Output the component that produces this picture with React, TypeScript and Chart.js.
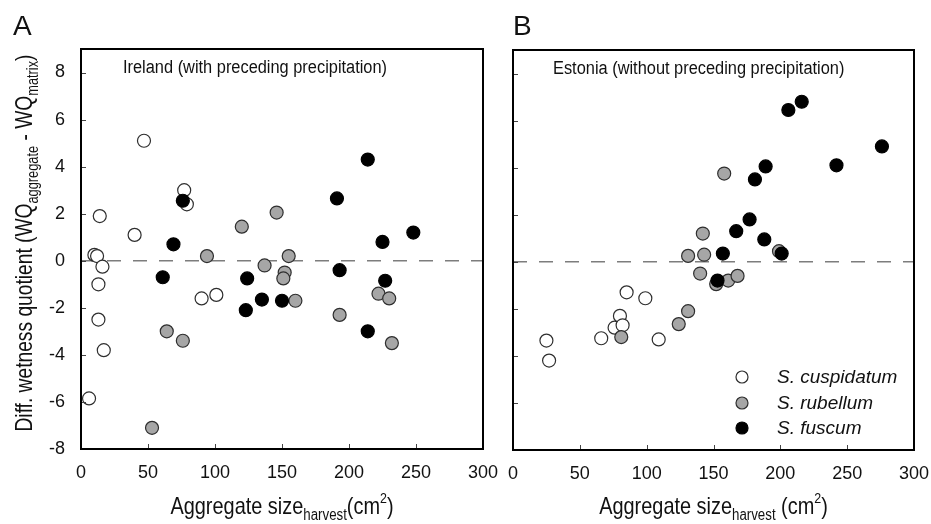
import React, { useEffect, useRef } from 'react';
import { Chart, registerables } from 'chart.js';

Chart.register(...registerables);

const FONT = '"Liberation Sans", Arial, Helvetica, sans-serif';

// ---------- data ----------
const xTickValues = [0, 50, 100, 150, 200, 250, 300];
const yTickValues = [-8, -6, -4, -2, 0, 2, 4, 6, 8];
const xMin = 0;
const xMax = 300;
const yMin = -8;
const yMax = 9;
const zeroLineX = [0, 300];
const zeroLineY = [0, 0];

const seriesNames = ['S. cuspidatum', 'S. rubellum', 'S. fuscum'];

// Panel A: Ireland
const irelandCuspX = [47, 77, 79, 14, 40, 10, 12, 16, 13, 13, 17, 6, 90, 101];
const irelandCuspY = [5.1, 3.0, 2.4, 1.9, 1.1, 0.25, 0.2, -0.25, -1.0, -2.5, -3.8, -5.85, -1.6, -1.45];
const irelandRubX = [53, 64, 76, 94, 120, 146, 137, 152, 151, 155, 160, 193, 222, 230, 232];
const irelandRubY = [-7.1, -3.0, -3.4, 0.2, 1.45, 2.05, -0.2, -0.5, -0.75, 0.2, -1.7, -2.3, -1.4, -1.6, -3.5];
const irelandFusX = [61, 69, 76, 124, 123, 135, 150, 191, 193, 214, 214, 225, 227, 248];
const irelandFusY = [-0.7, 0.7, 2.55, -0.75, -2.1, -1.65, -1.7, 2.65, -0.4, 4.3, -3.0, 0.8, -0.85, 1.2];

// Panel B: Estonia
const estoniaCuspX = [25, 27, 66, 76, 80, 82, 85, 99, 109];
const estoniaCuspY = [-3.35, -4.2, -3.25, -2.8, -2.3, -2.7, -1.3, -1.55, -3.3];
const estoniaRubX = [81, 124, 131, 131, 140, 142, 143, 152, 158, 161, 168, 199];
const estoniaRubY = [-3.2, -2.65, -2.1, 0.25, -0.5, 1.2, 0.3, -0.95, 3.75, -0.8, -0.6, 0.45];
const estoniaFusX = [153, 157, 167, 177, 188, 181, 189, 201, 206, 216, 242, 276];
const estoniaFusY = [-0.8, 0.35, 1.3, 1.8, 0.95, 3.5, 4.05, 0.35, 6.45, 6.8, 4.1, 4.9];

const pts = (xs: number[], ys: number[]) => xs.map((x, i) => ({ x, y: ys[i] }));

// ---------- styles ----------
const CUSP_FILL = '#ffffff';
const RUB_FILL = '#a6a6a6';
const FUS_FILL = '#000000';
const EDGE = '#2e2e2e';

type Seg = { t: string; size: number; dy?: number; italic?: boolean };

function drawRich(
  ctx: CanvasRenderingContext2D,
  segs: Seg[],
  x: number,
  y: number,
  align: 'center' | 'left',
  rotate: boolean,
  sx: number
) {
  const fontOf = (s: Seg) => `${s.italic ? 'italic ' : ''}${s.size}px ${FONT}`;
  const widths = segs.map((s) => {
    ctx.font = fontOf(s);
    return ctx.measureText(s.t).width * sx;
  });
  const total = widths.reduce((a, b) => a + b, 0);
  ctx.save();
  ctx.translate(x, y);
  if (rotate) ctx.rotate(-Math.PI / 2);
  let cx = align === 'center' ? -total / 2 : 0;
  ctx.textAlign = 'left';
  ctx.textBaseline = 'alphabetic';
  ctx.fillStyle = '#111';
  segs.forEach((s, i) => {
    ctx.save();
    ctx.translate(cx, s.dy ?? 0);
    ctx.scale(sx, 1);
    ctx.font = fontOf(s);
    ctx.fillText(s.t, 0, 0);
    ctx.restore();
    cx += widths[i];
  });
  ctx.restore();
}

function makeDecor(opts: {
  letter: string;
  letterDx: number;
  note: string;
  noteDx: number;
  showYTitle: boolean;
  showLegend: boolean;
  spaceBeforeUnit: boolean;
}) {
  return {
    id: 'decor',
    afterDraw(chart: any) {
      const { ctx, chartArea: a, scales } = chart;
      ctx.save();
      // inward tick marks
      ctx.strokeStyle = '#444';
      ctx.lineWidth = 1;
      ctx.beginPath();
      for (const t of scales.x.ticks) {
        const px = Math.round(scales.x.getPixelForValue(t.value)) + 0.5;
        if (px <= a.left + 2 || px >= a.right - 2) continue;
        ctx.moveTo(px, a.bottom);
        ctx.lineTo(px, a.bottom - 5);
      }
      for (const t of scales.y.ticks) {
        const py = Math.round(scales.y.getPixelForValue(t.value)) + 0.5;
        if (py <= a.top + 2 || py >= a.bottom - 2) continue;
        ctx.moveTo(a.left, py);
        ctx.lineTo(a.left + 5, py);
      }
      ctx.stroke();
      // frame
      ctx.strokeStyle = '#000';
      ctx.lineWidth = 2;
      ctx.strokeRect(a.left, a.top, a.right - a.left, a.bottom - a.top);

      // panel letter
      ctx.fillStyle = '#111';
      ctx.font = `28px ${FONT}`;
      ctx.textAlign = 'left';
      ctx.textBaseline = 'alphabetic';
      ctx.fillText(opts.letter, a.left + opts.letterDx, 35);

      // note
      drawRich(ctx, [{ t: opts.note, size: 18 }], a.left + opts.noteDx, a.top + 24, 'left', false, 0.91);

      // x title
      drawRich(
        ctx,
        [
          { t: 'Aggregate size', size: 24 },
          { t: 'harvest', size: 16, dy: 6 },
          { t: opts.spaceBeforeUnit ? ' (cm' : '(cm', size: 24 },
          { t: '2', size: 15, dy: -11 },
          { t: ')', size: 24 },
        ],
        (a.left + a.right) / 2,
        514,
        'center',
        false,
        0.83
      );

      if (opts.showYTitle) {
        drawRich(
          ctx,
          [
            { t: 'Diff. wetness quotient (WQ', size: 24 },
            { t: 'aggregate', size: 16, dy: 6 },
            { t: ' - WQ', size: 24 },
            { t: 'matrix', size: 16, dy: 6 },
            { t: ')', size: 24 },
          ],
          32,
          243,
          'center',
          true,
          0.8
        );
      }

      if (opts.showLegend) {
        const ds = chart.data.datasets;
        const entries = seriesNames.map((name) => ds.find((d: any) => d.label === name));
        const offsets = [73, 47, 22];
        entries.forEach((d: any, i: number) => {
          const cy = a.bottom - offsets[i];
          const cx = a.right - 172;
          ctx.beginPath();
          ctx.arc(cx, cy, 6, 0, Math.PI * 2);
          ctx.fillStyle = d.backgroundColor;
          ctx.fill();
          ctx.lineWidth = 1.2;
          ctx.strokeStyle = d.borderColor;
          ctx.stroke();
          ctx.fillStyle = '#111';
          ctx.font = `italic 19px ${FONT}`;
          ctx.textAlign = 'left';
          ctx.textBaseline = 'middle';
          ctx.fillText(seriesNames[i], a.right - 137, cy + 1);
        });
      }
      ctx.restore();
    },
  };
}

function makeConfig(
  cusp: { x: number; y: number }[],
  rub: { x: number; y: number }[],
  fus: { x: number; y: number }[],
  padding: { left: number; right: number; top: number; bottom: number },
  yAxisWidth: number,
  xAxisHeight: number,
  showYLabels: boolean,
  decor: any
): any {
  const pointStyle = { pointRadius: 6.5, pointHoverRadius: 6.5, pointBorderWidth: 1.2, borderWidth: 1.2 };
  return {
    type: 'scatter',
    data: {
      datasets: [
        { label: seriesNames[2], data: fus, backgroundColor: FUS_FILL, borderColor: '#000', order: 1, ...pointStyle },
        { label: seriesNames[1], data: rub, backgroundColor: RUB_FILL, borderColor: EDGE, order: 2, ...pointStyle },
        { label: seriesNames[0], data: cusp, backgroundColor: CUSP_FILL, borderColor: EDGE, order: 3, ...pointStyle },
        {
          type: 'line',
          label: 'zero',
          data: pts(zeroLineX, zeroLineY),
          borderColor: '#7d7d7d',
          borderWidth: 1.5,
          borderDash: [14, 12],
          pointRadius: 0,
          showLine: true,
          fill: false,
          order: 4,
        },
      ],
    },
    options: {
      animation: false,
      responsive: false,
      maintainAspectRatio: false,
      events: [],
      layout: { padding },
      plugins: {
        legend: { display: false },
        tooltip: { enabled: false },
        title: { display: false },
      },
      scales: {
        x: {
          type: 'linear',
          min: xMin,
          max: xMax,
          grid: { display: false },
          border: { display: false },
          ticks: {
            font: { family: FONT, size: 18 },
            color: '#111',
            padding: 5,
            maxRotation: 0,
            autoSkip: false,
          },
          afterBuildTicks: (s: any) => {
            s.ticks = xTickValues.map((v) => ({ value: v }));
          },
          afterFit: (s: any) => {
            s.height = xAxisHeight;
            s.paddingLeft = 0;
            s.paddingRight = 0;
          },
        },
        y: {
          type: 'linear',
          min: yMin,
          max: yMax,
          grid: { display: false },
          border: { display: false },
          ticks: {
            display: showYLabels,
            font: { family: FONT, size: 18 },
            color: '#111',
            padding: 8,
            autoSkip: false,
          },
          afterBuildTicks: (s: any) => {
            s.ticks = yTickValues.map((v) => ({ value: v }));
          },
          afterFit: (s: any) => {
            s.width = yAxisWidth;
            s.paddingTop = 0;
            s.paddingBottom = 0;
          },
        },
      },
    },
    plugins: [decor],
  };
}

export default function App() {
  const refA = useRef<HTMLCanvasElement | null>(null);
  const refB = useRef<HTMLCanvasElement | null>(null);

  useEffect(() => {
    if (!refA.current || !refB.current) return;
    // Panel A: chart area x 81..483, y 49..449
    const chartA = new Chart(
      refA.current,
      makeConfig(
        pts(irelandCuspX, irelandCuspY),
        pts(irelandRubX, irelandRubY),
        pts(irelandFusX, irelandFusY),
        { left: 41, right: 448, top: 49, bottom: 35 },
        40,
        40,
        true,
        makeDecor({
          letter: 'A',
          letterDx: -68,
          note: 'Ireland (with preceding precipitation)',
          noteDx: 42,
          showYTitle: true,
          showLegend: false,
          spaceBeforeUnit: false,
        })
      )
    );
    // Panel B: chart area x 513..914, y 50..450
    const chartB = new Chart(
      refB.current,
      makeConfig(
        pts(estoniaCuspX, estoniaCuspY),
        pts(estoniaRubX, estoniaRubY),
        pts(estoniaFusX, estoniaFusY),
        { left: 493, right: 17, top: 50, bottom: 34 },
        20,
        40,
        false,
        makeDecor({
          letter: 'B',
          letterDx: 0,
          note: 'Estonia (without preceding precipitation)',
          noteDx: 40,
          showYTitle: false,
          showLegend: true,
          spaceBeforeUnit: true,
        })
      )
    );
    return () => {
      chartA.destroy();
      chartB.destroy();
    };
  }, []);

  const canvasStyle: React.CSSProperties = { position: 'absolute', left: 0, top: 0, width: 931, height: 524 };
  return (
    <div style={{ position: 'fixed', left: 0, top: 0, width: 931, height: 524, background: '#fff' }}>
      <canvas ref={refA} width={931} height={524} style={canvasStyle} />
      <canvas ref={refB} width={931} height={524} style={canvasStyle} />
    </div>
  );
}
